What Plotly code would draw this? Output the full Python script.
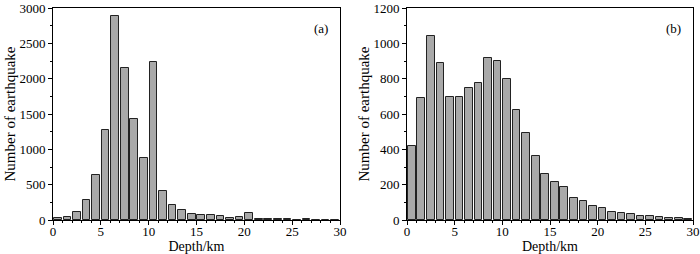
import plotly.graph_objects as go

depth_centers = [i + 0.5 for i in range(30)]
counts_a = [30, 45, 120, 285, 635, 1275, 2880, 2145, 1435, 880, 2240, 410, 215, 135, 85,
            75, 65, 50, 35, 40, 100, 20, 15, 15, 15, 5, 8, 5, 3, 3]
counts_b = [420, 690, 1040, 890, 695, 695, 750, 778, 915, 900, 800, 625, 495, 360, 258,
            217, 188, 127, 108, 82, 68, 48, 40, 35, 25, 20, 15, 13, 10, 8]
x_ticks = [0, 5, 10, 15, 20, 25, 30]
panel_labels = ["(a)", "(b)"]

FONT = "Liberation Serif"
bar_style = dict(marker=dict(color="#a9a9a9", line=dict(color="#222222", width=1)), width=0.8)

fig = go.Figure()
fig.add_trace(go.Bar(x=depth_centers, y=counts_a, xaxis="x", yaxis="y", **bar_style))
fig.add_trace(go.Bar(x=depth_centers, y=counts_b, xaxis="x2", yaxis="y2", **bar_style))

common_x = dict(range=[0, 30], tickvals=x_ticks, ticks="outside", ticklen=4, tickcolor="black",
                showline=True, linecolor="black", linewidth=1, mirror=True, showgrid=False,
                zeroline=False, automargin=False, ticklabelstandoff=-5,
                tickfont=dict(family=FONT, size=13, color="black"),
                title=dict(text="Depth/km", font=dict(family=FONT, size=14, color="black"), standoff=2),
                minor=dict(dtick=1, ticks="outside", ticklen=2, tickcolor="black", showgrid=False))
common_y = dict(ticks="outside", ticklen=4, tickcolor="black", showline=True, linecolor="black",
                linewidth=1, mirror=True, showgrid=False, zeroline=False, automargin=False,
                tickfont=dict(family=FONT, size=13, color="black"),
                title=dict(text="Number of earthquake", font=dict(family=FONT, size=15, color="black"), standoff=0))

fig.update_layout(
    width=700, height=254, margin=dict(l=0, r=0, t=0, b=0),
    paper_bgcolor="white", plot_bgcolor="white", showlegend=False, bargap=0,
    font=dict(family=FONT),
    xaxis=dict(domain=[53/700, 340/700], anchor="y", **common_x),
    yaxis=dict(domain=[1-220/254, 1-8/254], anchor="x", range=[0, 3000], dtick=500,
               minor=dict(dtick=250, ticks="outside", ticklen=2, tickcolor="black", showgrid=False), **common_y),
    xaxis2=dict(domain=[407/700, 693/700], anchor="y2", **common_x),
    yaxis2=dict(domain=[1-220/254, 1-8/254], anchor="x2", range=[0, 1200], dtick=200,
                minor=dict(dtick=100, ticks="outside", ticklen=2, tickcolor="black", showgrid=False), **common_y),
)

for i, lab in enumerate(panel_labels):
    fig.add_annotation(text=lab, xref=("x domain" if i == 0 else "x2 domain"),
                       yref=("y domain" if i == 0 else "y2 domain"), x=0.965, y=0.95,
                       xanchor="right", yanchor="top", showarrow=False,
                       font=dict(family=FONT, size=13, color="black"))

fig.write_html("out.html", config={"displayModeBar": False},
               post_script="document.body.style.margin='0';")
